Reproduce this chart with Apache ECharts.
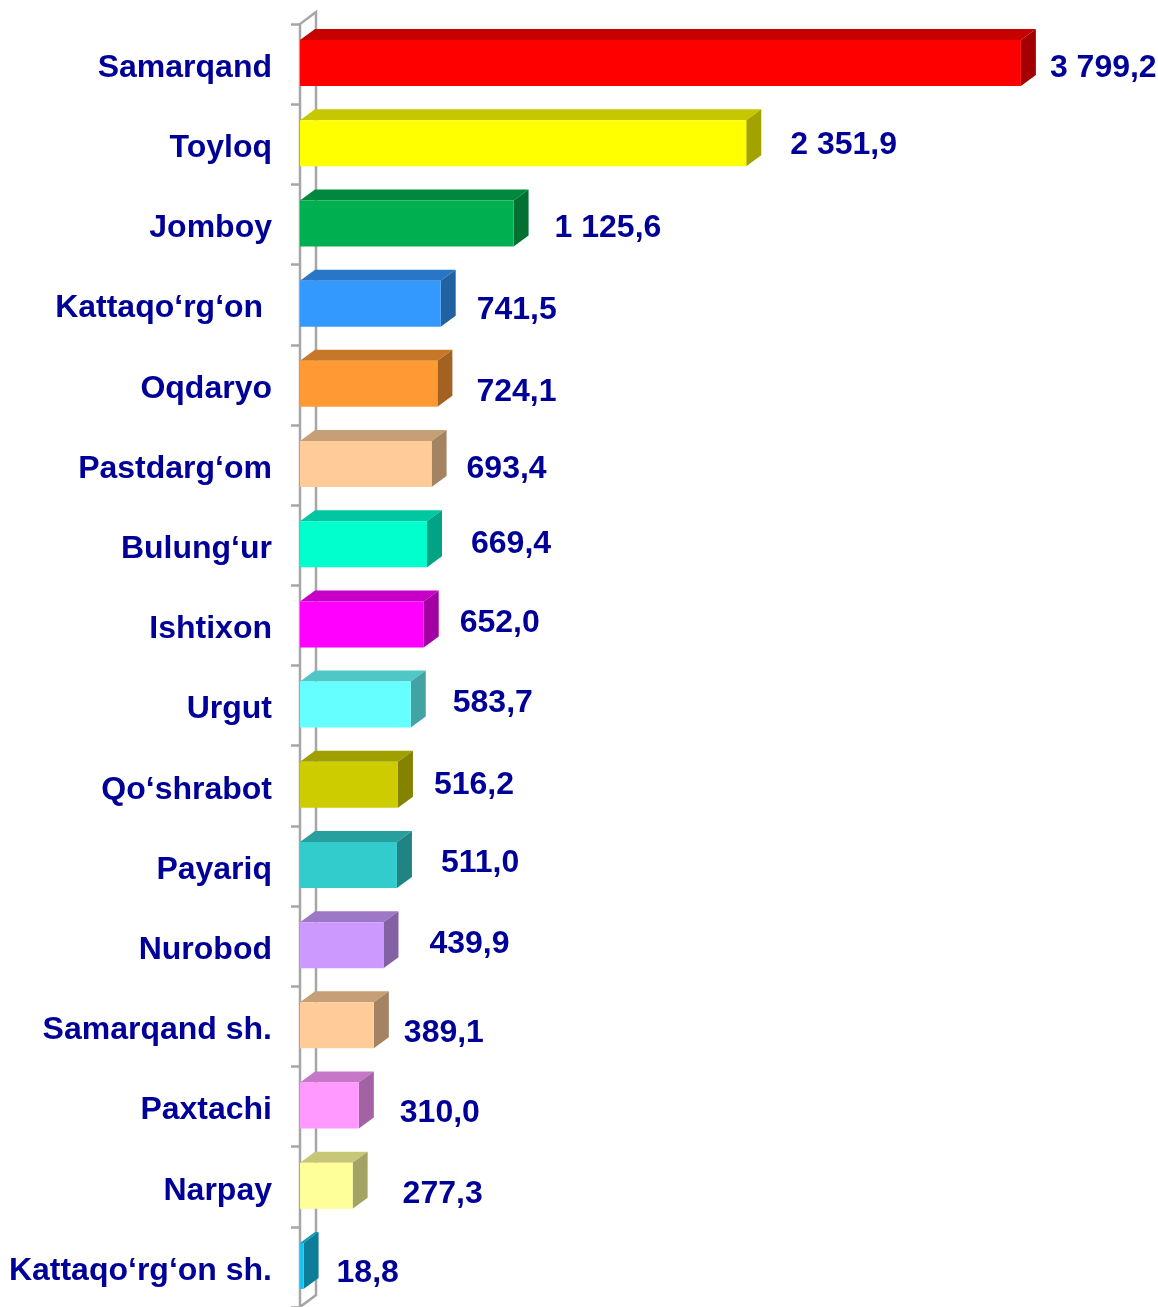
<!DOCTYPE html>
<html>
<head>
<meta charset="utf-8">
<script src="https://cdn.jsdelivr.net/npm/echarts@6/dist/echarts.min.js"></script>
<style>
  html, body { margin: 0; padding: 0; background: #ffffff; }
  #chart { width: 1158px; height: 1307px; }
</style>
</head>
<body>
<div id="chart"></div>
<script>
// Districts, top to bottom
const districts = [
  'Samarqand', 'Toyloq', 'Jomboy', 'Kattaqo‘rg‘on ', 'Oqdaryo', 'Pastdarg‘om',
  'Bulung‘ur', 'Ishtixon', 'Urgut', 'Qo‘shrabot', 'Payariq', 'Nurobod',
  'Samarqand sh.', 'Paxtachi', 'Narpay', 'Kattaqo‘rg‘on sh.'
];

// Value for each district
const volumes = [
  3799.2, 2351.9, 1125.6, 741.5, 724.1, 693.4,
  669.4, 652.0, 583.7, 516.2, 511.0, 439.9,
  389.1, 310.0, 277.3, 18.8
];

// Front-face colour of each bar
const faceColors = [
  '#FF0000', '#FFFF00', '#00B050', '#3399FF', '#FF9933', '#FFCC99',
  '#00FFCC', '#FF00FF', '#66FFFF', '#CCCC00', '#33CCCC', '#CC99FF',
  '#FFCC99', '#FF99FF', '#FFFF99', '#14C3EE'
];

// Hand placement of the value labels: gap after the bar's side face and
// vertical shift from the row centre, in pixels
const labelGap = [14, 29, 26, 21, 24, 20, 29, 21, 27, 21, 29, 31, 15, 26, 35, 18];
const labelShift = [-1, -4, -1, 1, 2, -1, -6, -7, -7, -6, -8, -7, 2, 2, 2, 1];

const TEXT_COLOR = '#000099';
const FONT = '"Liberation Sans", Arial, sans-serif';
const FONT_SIZE = 32;
const DEPTH_X = 15;
const DEPTH_Y = 11;
const NAME_MARGIN = 28;

function shade(hex, k) {
  const n = parseInt(hex.slice(1), 16);
  const r = Math.round(((n >> 16) & 255) * k);
  const g = Math.round(((n >> 8) & 255) * k);
  const b = Math.round((n & 255) * k);
  return 'rgb(' + r + ',' + g + ',' + b + ')';
}

function formatValue(v) {
  const parts = v.toFixed(1).split('.');
  const whole = parts[0].replace(/\B(?=(\d{3})+(?!\d))/g, ' ');
  return whole + ',' + parts[1];
}

const barData = volumes.map((v, i) => [v, i]);

function renderBar(params, api) {
  const v = api.value(0);
  const i = api.value(1);
  const start = api.coord([0, i]);
  const end = api.coord([v, i]);
  const x0 = start[0];
  const x1 = end[0];
  const cy = start[1];
  const top = cy - 24;
  const bot = cy + 22;
  const col = faceColors[i];
  const font = 'bold ' + FONT_SIZE + 'px ' + FONT;
  return {
    type: 'group',
    children: [
      {
        type: 'polygon',
        shape: { points: [[x0, top], [x0 + DEPTH_X, top - DEPTH_Y], [x1 + DEPTH_X, top - DEPTH_Y], [x1, top]] },
        style: { fill: shade(col, 0.78), stroke: null }
      },
      {
        type: 'polygon',
        shape: { points: [[x1, top], [x1 + DEPTH_X, top - DEPTH_Y], [x1 + DEPTH_X, bot - DEPTH_Y], [x1, bot]] },
        style: { fill: shade(col, 0.64), stroke: null }
      },
      {
        type: 'rect',
        shape: { x: x0, y: top, width: Math.max(x1 - x0, 0.5), height: bot - top },
        style: { fill: col, stroke: null }
      },
      {
        // district name, right-aligned left of the wall
        type: 'text',
        x: x0 - NAME_MARGIN,
        y: cy + 4,
        style: {
          text: districts[i],
          fill: TEXT_COLOR,
          font: font,
          textAlign: 'right',
          textVerticalAlign: 'middle'
        }
      },
      {
        // value label after the bar
        type: 'text',
        x: x1 + DEPTH_X + labelGap[i],
        y: cy + labelShift[i] + 5,
        style: {
          text: formatValue(v),
          fill: TEXT_COLOR,
          font: font,
          textAlign: 'left',
          textVerticalAlign: 'middle'
        }
      }
    ]
  };
}

// Gray back wall behind the bars
function renderWall(params) {
  const cs = params.coordSys;
  const x = cs.x, y = cs.y, h = cs.height;
  const dx = 16, dy = 12;
  return {
    type: 'polyline',
    shape: { points: [[x, y + h], [x, y], [x + dx, y - dy], [x + dx, y + h - dy], [x, y + h]] },
    style: { stroke: '#A6A6A6', lineWidth: 2.5, fill: null }
  };
}

const chart = echarts.init(document.getElementById('chart'), null, { renderer: 'canvas' });
chart.setOption({
  animation: false,
  backgroundColor: '#ffffff',
  grid: { left: 300, top: 24, width: 759, height: 1288.5, containLabel: false },
  xAxis: { type: 'value', min: 0, max: 4000, show: false },
  yAxis: {
    type: 'category',
    data: districts,
    inverse: true,
    boundaryGap: true,
    axisLine: { show: false },
    axisTick: { show: true, length: 9, lineStyle: { color: '#A6A6A6', width: 2.5 } },
    splitLine: { show: false },
    axisLabel: { show: false }
  },
  series: [
    {
      type: 'custom',
      coordinateSystem: 'cartesian2d',
      data: [[0, 0]],
      renderItem: renderWall,
      silent: true,
      z: 1
    },
    {
      type: 'custom',
      coordinateSystem: 'cartesian2d',
      data: barData,
      encode: { x: 0, y: 1 },
      renderItem: renderBar,
      clip: false,
      z: 2
    }
  ]
});
</script>
</body>
</html>
